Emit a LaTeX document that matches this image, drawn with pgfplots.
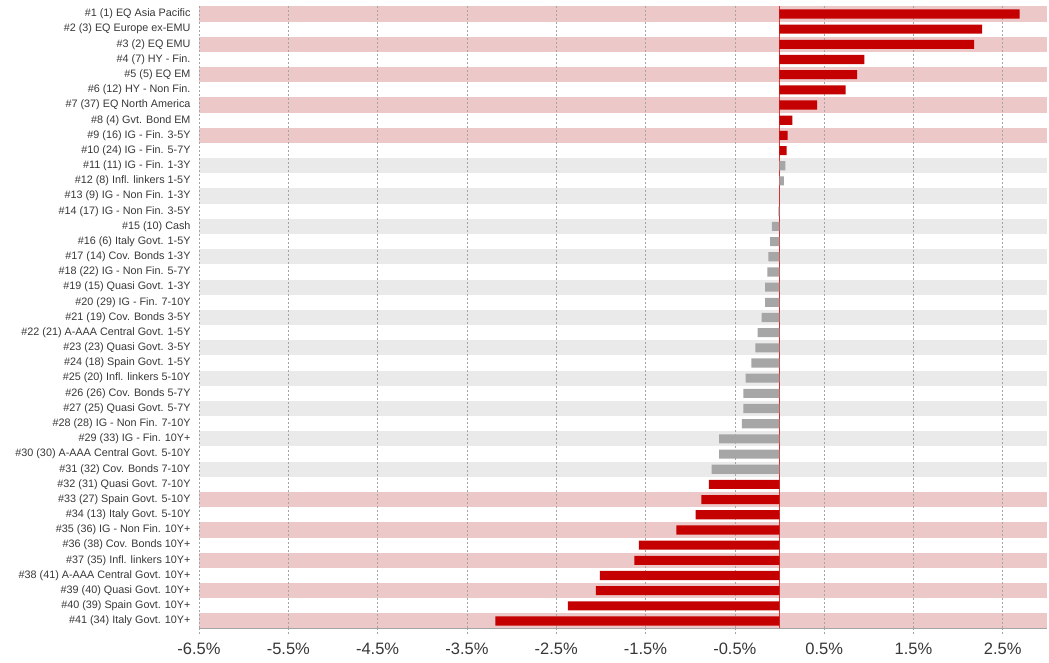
\documentclass[border=0pt]{standalone}
\usepackage{pgfplots}
\pgfplotsset{compat=1.18}
\usepackage{fontspec}
\setmainfont{Liberation Sans}
\definecolor{barred}{RGB}{196,0,0}
\definecolor{zeroline}{RGB}{215,50,50}
\definecolor{bargray}{RGB}{166,166,166}
\definecolor{bandpink}{RGB}{236,200,200}
\definecolor{bandgray}{RGB}{234,234,234}
\definecolor{gridgray}{RGB}{165,165,165}
\definecolor{txt}{RGB}{55,55,55}
\begin{document}
\begin{tikzpicture}
\begin{axis}[
  set layers,
  scale only axis,
  width=848.4bp, height=622.2bp,
  xmin=-6.5, xmax=3.0,
  ymin=0.5, ymax=41.5,
  y dir=reverse,
  axis x line*=bottom,
  axis y line*=left,
  x axis line style={-, draw=gridgray},
  y axis line style={draw=none},
  xtick={-6.5,-5.5,-4.5,-3.5,-2.5,-1.5,-0.5,0.5,1.5,2.5},
  xticklabels={-6.5\%,-5.5\%,-4.5\%,-3.5\%,-2.5\%,-1.5\%,-0.5\%,0.5\%,1.5\%,2.5\%},
  /pgf/number format/assume math mode=true,
  xmajorgrids,
  grid style={draw=gridgray, line width=0.6bp, dash pattern=on 2bp off 2bp},
  tick align=outside,
  major tick length=5bp,
  xtick style={draw=gridgray, line width=0.6bp, dash pattern=on 2bp off 2bp},
  ytick={1,...,41},
  ytick style={draw=none},
  xticklabel style={font=\fontsize{16.5bp}{18bp}\selectfont, text=txt, yshift=-6bp},
  yticklabel style={font=\fontsize{10.8bp}{12bp}\selectfont, text=txt, xshift=0bp},
  yticklabels={
    \#1 (1) EQ Asia Pacific,
    \#2 (3) EQ Europe ex-EMU,
    \#3 (2) EQ EMU,
    \#4 (7) HY - Fin.,
    \#5 (5) EQ EM,
    \#6 (12) HY - Non Fin.,
    \#7 (37) EQ North America,
    \#8 (4) Gvt. Bond EM,
    \#9 (16) IG - Fin. 3-5Y,
    \#10 (24) IG - Fin. 5-7Y,
    \#11 (11) IG - Fin. 1-3Y,
    \#12 (8) Infl. linkers 1-5Y,
    \#13 (9) IG - Non Fin. 1-3Y,
    \#14 (17) IG - Non Fin. 3-5Y,
    \#15 (10) Cash,
    \#16 (6) Italy Govt. 1-5Y,
    \#17 (14) Cov. Bonds 1-3Y,
    \#18 (22) IG - Non Fin. 5-7Y,
    \#19 (15) Quasi Govt. 1-3Y,
    \#20 (29) IG - Fin. 7-10Y,
    \#21 (19) Cov. Bonds 3-5Y,
    \#22 (21) A-AAA Central Govt. 1-5Y,
    \#23 (23) Quasi Govt. 3-5Y,
    \#24 (18) Spain Govt. 1-5Y,
    \#25 (20) Infl. linkers 5-10Y,
    \#26 (26) Cov. Bonds 5-7Y,
    \#27 (25) Quasi Govt. 5-7Y,
    \#28 (28) IG - Non Fin. 7-10Y,
    \#29 (33) IG - Fin. 10Y+,
    \#30 (30) A-AAA Central Govt. 5-10Y,
    \#31 (32) Cov. Bonds 7-10Y,
    \#32 (31) Quasi Govt. 7-10Y,
    \#33 (27) Spain Govt. 5-10Y,
    \#34 (13) Italy Govt. 5-10Y,
    \#35 (36) IG - Non Fin. 10Y+,
    \#36 (38) Cov. Bonds 10Y+,
    \#37 (35) Infl. linkers 10Y+,
    \#38 (41) A-AAA Central Govt. 10Y+,
    \#39 (40) Quasi Govt. 10Y+,
    \#40 (39) Spain Govt. 10Y+,
    \#41 (34) Italy Govt. 10Y+
  },
  extra x ticks={0},
  extra x tick labels={},
  extra x tick style={
    grid=major,
    major grid style={draw=zeroline, solid, line width=1.3bp},
    major tick length=0pt,
  },
]
\begin{pgfonlayer}{axis background}
\pgfplotsinvokeforeach{1,3,5,7,9,33,35,37,39,41}{
  \fill[bandpink] (axis cs:-6.5,#1-0.5) rectangle (axis cs:3.0,#1+0.5);
}
\pgfplotsinvokeforeach{11,13,15,17,19,21,23,25,27,29,31}{
  \fill[bandgray] (axis cs:-6.5,#1-0.5) rectangle (axis cs:3.0,#1+0.5);
}
\end{pgfonlayer}

% red bars
\addplot[xbar, bar shift=0pt, bar width=0.6, fill=barred, draw=none] coordinates {
  (2.69,1) (2.27,2) (2.18,3) (0.95,4) (0.87,5) (0.74,6) (0.42,7)
  (0.145,8) (0.09,9) (0.08,10)
  (-0.79,32) (-0.875,33) (-0.94,34) (-1.155,35) (-1.575,36)
  (-1.625,37) (-2.01,38) (-2.055,39) (-2.37,40) (-3.18,41)
};
% gray bars
\addplot[xbar, bar shift=0pt, bar width=0.6, fill=bargray, draw=none] coordinates {
  (0.065,11) (0.05,12) (-0.012,14) (-0.085,15) (-0.105,16)
  (-0.125,17) (-0.135,18) (-0.16,19) (-0.16,20) (-0.2,21) (-0.245,22)
  (-0.27,23) (-0.315,24) (-0.38,25) (-0.405,26) (-0.405,27) (-0.42,28)
  (-0.675,29) (-0.675,30) (-0.76,31)
};
\end{axis}
\pgfresetboundingbox
\path ([xshift=-199bp,yshift=-34.4bp]current axis.south west) rectangle ([xshift=1.6bp,yshift=6.4bp]current axis.north east);
\end{tikzpicture}
\end{document}
